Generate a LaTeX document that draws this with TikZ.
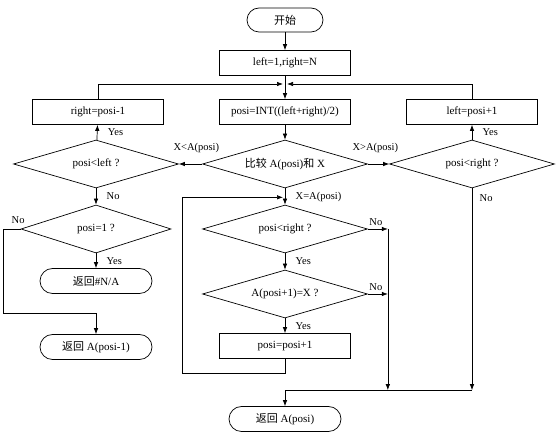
\documentclass[tikz,border=0pt]{standalone}
\usepackage{fontspec}
\setmainfont{Liberation Serif}
\newfontfamily\cjk{Noto Sans CJK SC}
\newcommand{\zh}[1]{{\cjk #1}}
\usetikzlibrary{shapes.geometric,arrows.meta,calc,positioning}

\begin{document}
\begin{tikzpicture}[
x=1pt, y=1pt,
every node/.style={font=\fontsize{11}{13}\selectfont},
base/.style={draw=black, line width=0.7pt, inner sep=1pt},
term/.style={base, rectangle, rounded corners=12.5pt, minimum width=112pt, minimum height=25pt},
block/.style={base, rectangle, minimum width=131pt, minimum height=25pt},
decision/.style={base, diamond, aspect=3.4, minimum width=165pt, minimum height=48pt},
lbl/.style={font=\fontsize{10.5}{12}\selectfont},
line/.style={draw=black, line width=0.7pt},
arr/.style={line, -{Latex[length=6pt,width=4.5pt]}}
]

\useasboundingbox (0,0) rectangle (558,-435);

\node [term, minimum width=76pt, minimum height=24pt, rounded corners=12pt] (start) at (285,-20) {\zh{开始}};
\node [block, below of=start, node distance=43pt] (init) {left=1,right=N};
\node [block, below of=init, node distance=49pt] (posi) {posi=INT((left+right)/2)};
\node [block, left of=posi, node distance=187pt] (rpm) {right=posi-1};
\node [block, right of=posi, node distance=187pt] (lpp) {left=posi+1};

\node [decision, below of=posi, node distance=52pt] (cmp) {\zh{比较} A(posi)\zh{和} X};
\node [decision, left of=cmp, node distance=189pt] (pleft) {posi<left ?};
\node [decision, right of=cmp, node distance=187pt] (pright) {posi<right ?};
\node [decision, below of=pleft, node distance=65pt, minimum width=150pt] (pone) {posi=1 ?};
\node [term, below of=pone, node distance=52pt] (retna) {\zh{返回}\#N/A};
\node [term, below of=retna, node distance=66pt] (retprev) {\zh{返回} A(posi-1)};

\node [decision, below of=cmp, node distance=65pt] (pin) {posi<right ?};
\node [decision, below of=pin, node distance=65pt] (peq) {A(posi+1)=X ?};
\node [block, below of=peq, node distance=52pt] (pinc) {posi=posi+1};
\node [term, below of=pinc, node distance=73pt] (ret) {\zh{返回} A(posi)};

\coordinate (mj) at ($(init.south)!0.35!(posi.north)$);
\coordinate (lj) at ($(cmp.south)!0.55!(pin.north)$);
\coordinate (nr) at ($(pin.east)+(20,0)$);
\coordinate (bj) at ($(ret.north)+(0,16)$);
\coordinate (lb) at ($(pinc.south)+(-103,-15)$);
\coordinate (lo) at ($(pone.west)+(-17,0)$);
\coordinate (lr) at ($(retprev.north)+(0,21)$);

\draw[arr] (start) -- (init);
\draw[arr] (init) -- (posi);
\draw[arr] (rpm.north) |- ([xshift=-2pt]mj);
\draw[arr] (lpp.north) |- ([xshift=2pt]mj);
\draw[arr] (posi) -- (cmp);
\draw[arr] (cmp.west) -- node[lbl, above=8pt, pos=0.25] {X<A(posi)} (pleft.east);
\draw[arr] (cmp.east) -- node[lbl, above=8pt, pos=0.35] {X>A(posi)} (pright.west);
\draw[arr] (pleft) -- node[lbl, right=7pt] {Yes} (rpm);
\draw[arr] (pright) -- node[lbl, right=7pt] {Yes} (lpp);
\draw[arr] (pleft) -- node[lbl, right=7pt] {No} (pone);
\draw[arr] (pone) -- node[lbl, right=7pt] {Yes} (retna);
\draw[arr] (pone.west) -- node[lbl, above=2pt, pos=0.15] {No} (lo) |- (lr) -- (retprev.north);

\draw[arr] (cmp) -- node[lbl, right=7pt] {X=A(posi)} (pin);
\draw[arr] (pin.east) -- node[lbl, above, pos=0.4] {No} (nr);
\draw[arr] (nr) -- (nr |- bj);
\draw[arr] (pin) -- node[lbl, right=7pt] {Yes} (peq);
\draw[arr] (peq.east) -- node[lbl, above, pos=0.4] {No} (peq.east -| nr);
\draw[arr] (peq) -- node[lbl, right=7pt] {Yes} (pinc);
\draw[arr] (pinc.south) |- (lb) |- ([xshift=-2pt]lj);
\draw[arr] (pright.south) -- node[lbl, right=4pt, pos=0.05] {No} (pright.south |- bj);
\draw[line] (bj) -- (bj -| pright.south);
\draw[arr] (bj) -- (ret);

\end{tikzpicture}
\end{document}
